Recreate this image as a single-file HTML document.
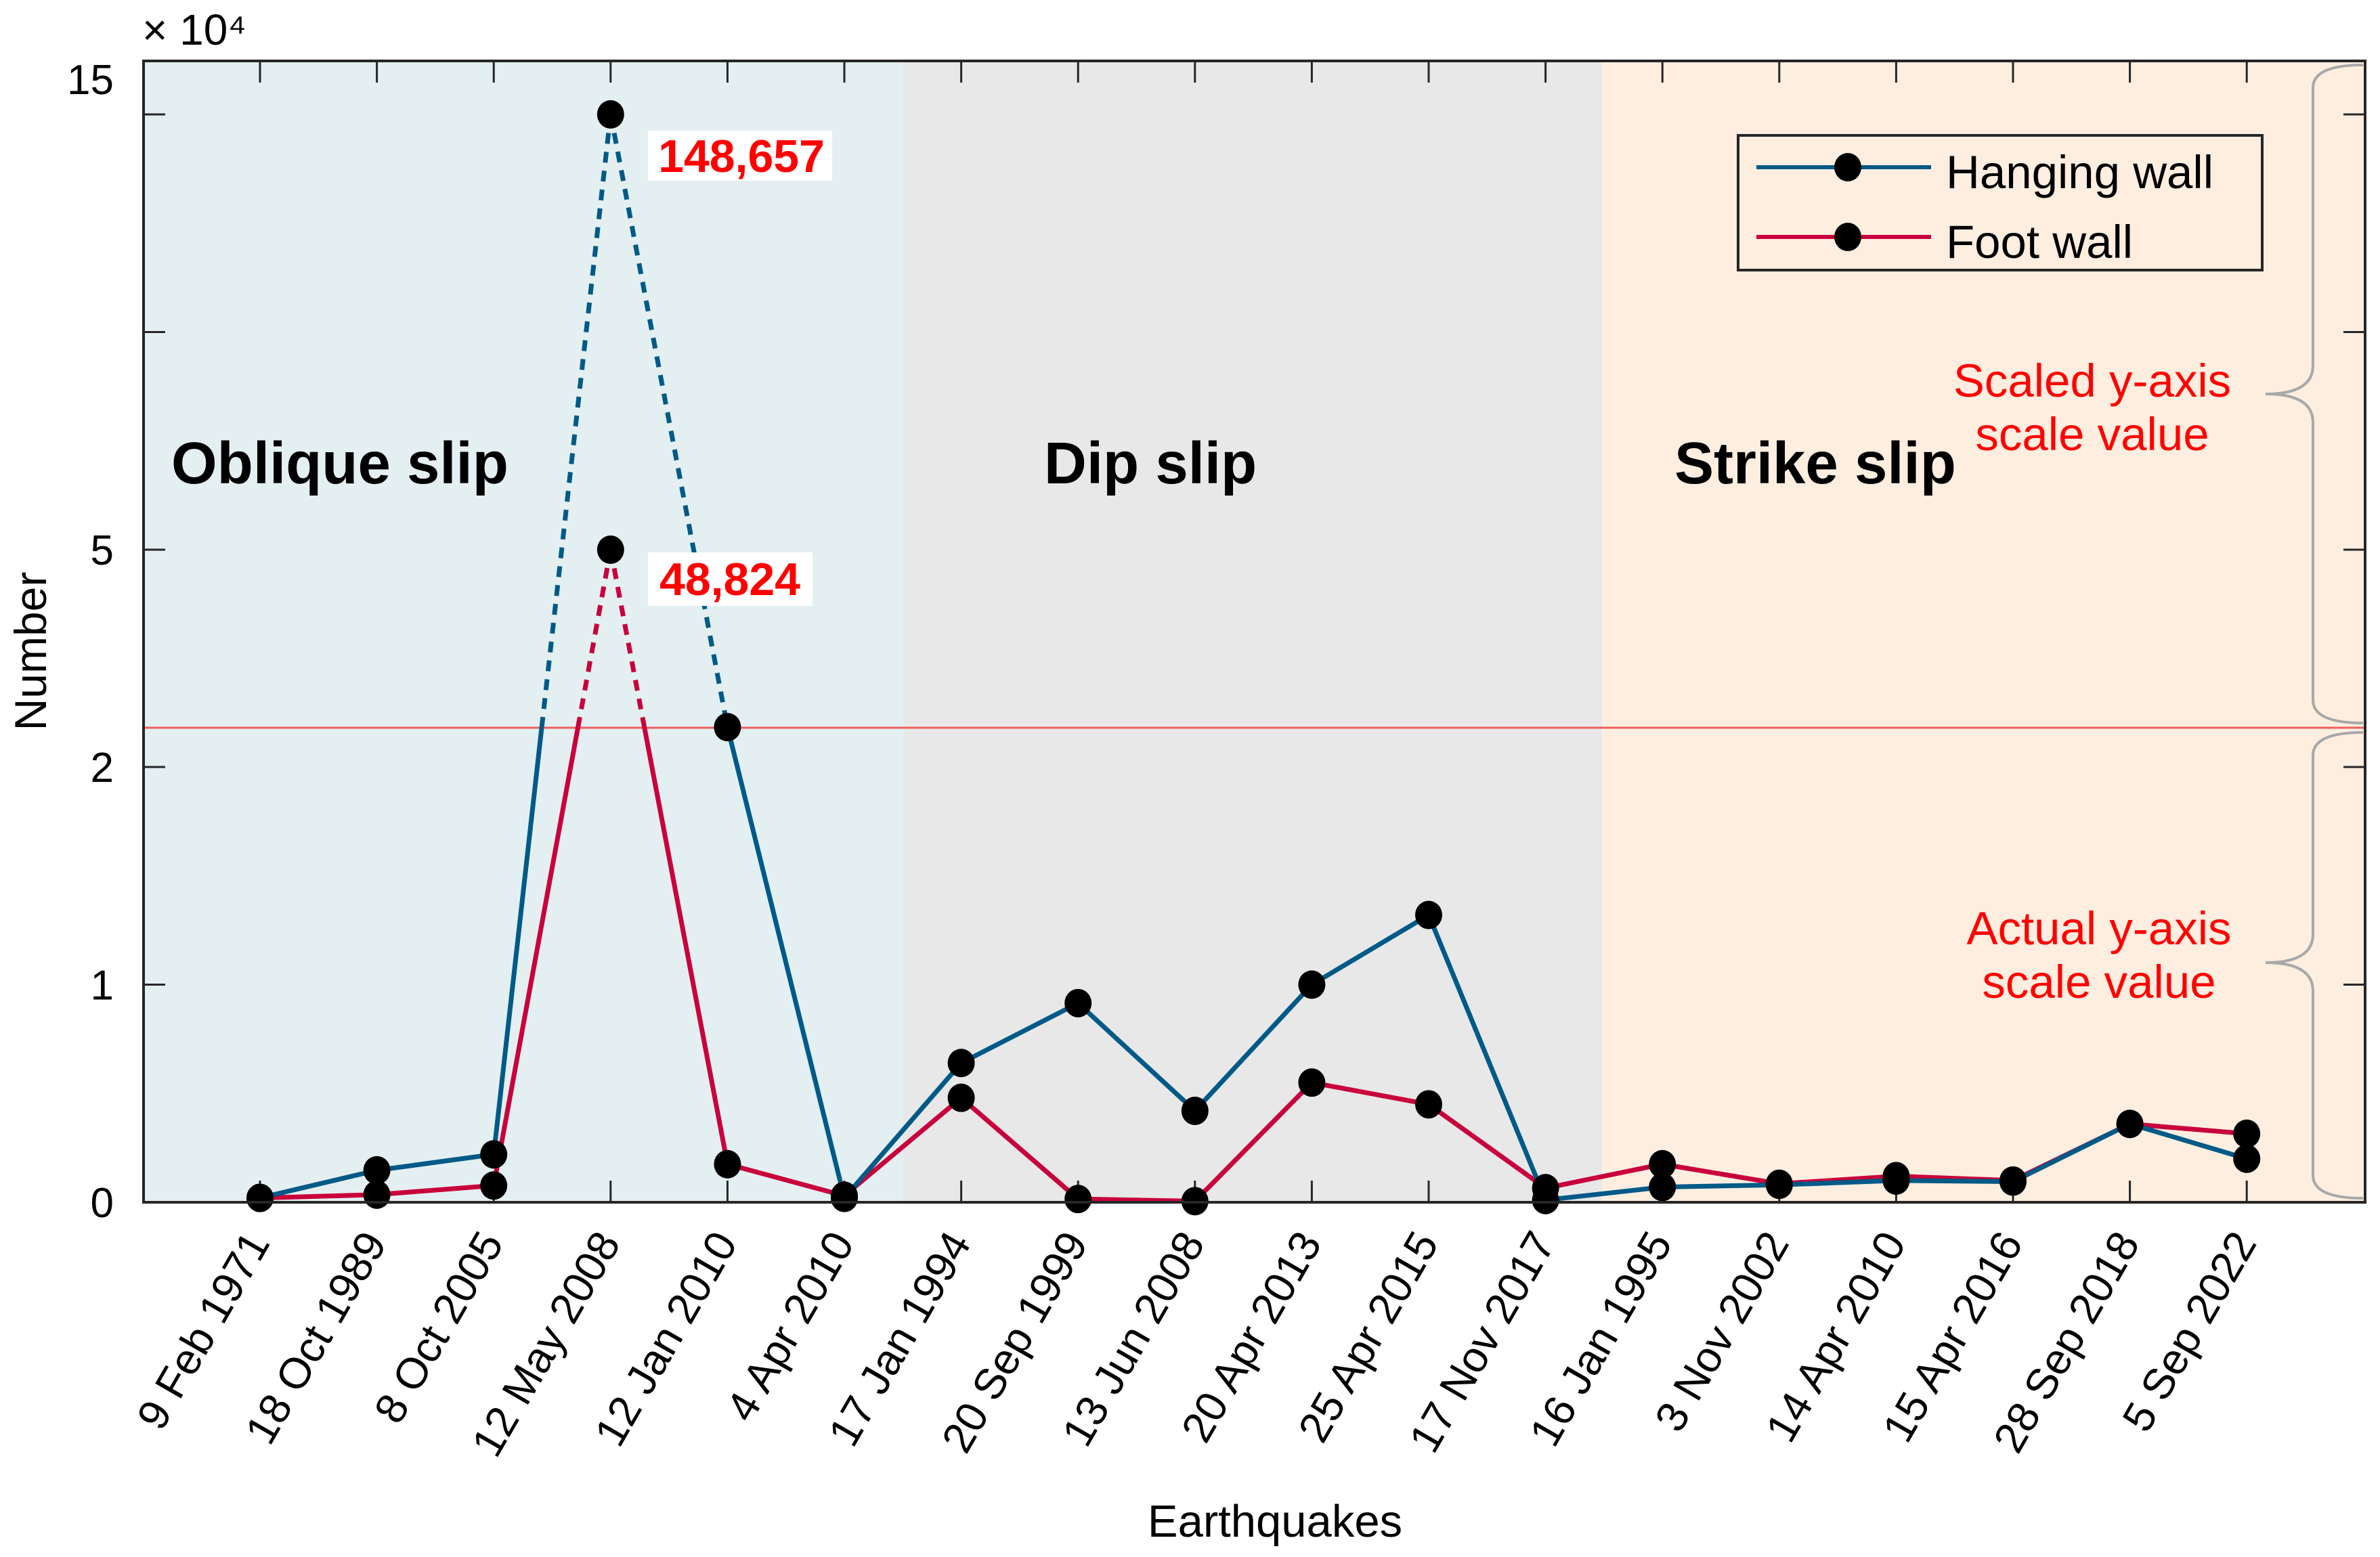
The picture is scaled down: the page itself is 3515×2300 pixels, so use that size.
<!DOCTYPE html>
<html><head><meta charset="utf-8">
<style>
html,body{margin:0;padding:0;background:#fff;}
svg{display:block;font-family:"Liberation Sans",sans-serif;}
</style></head>
<body>
<svg id="chart" width="3515" height="2300" viewBox="0 0 3515 2300" xmlns="http://www.w3.org/2000/svg">
  <rect x="212" y="90" width="1122" height="1686" fill="#e4eff1"/>
  <rect x="1334" y="90" width="1032" height="1686" fill="#e8e8e8"/>
  <rect x="2366" y="90" width="1127" height="1686" fill="#fdeee0"/>
  <line x1="212" y1="1075" x2="3493" y2="1075" stroke="#f06060" stroke-width="3"/>
  <g id="ticks"></g>
  <g id="series"></g>
  <rect x="212" y="90" width="3281" height="1686" fill="none" stroke="#262626" stroke-width="4"/>

  <text x="253" y="714" font-size="87" font-weight="bold">Oblique slip</text>
  <text x="1542" y="714" font-size="87" font-weight="bold">Dip slip</text>
  <text x="2473" y="714" font-size="87" font-weight="bold">Strike slip</text>

  <rect x="957" y="193" width="272" height="74" fill="#fff"/>
  <text x="1095" y="254" font-size="68" font-weight="bold" fill="#ff0000" text-anchor="middle">148,657</text>
  <rect x="957" y="816" width="243" height="79" fill="#fff"/>
  <text x="1078" y="879" font-size="68" font-weight="bold" fill="#ff0000" text-anchor="middle">48,824</text>

  <g>
    <rect x="2567" y="200" width="774" height="199" fill="#fdeee0" stroke="#262626" stroke-width="4"/>
    <line x1="2594" y1="247" x2="2852" y2="247" stroke="#005a87" stroke-width="6"/>
    <ellipse cx="2729" cy="247" rx="20" ry="21" fill="#000"/>
    <text x="2874" y="278" font-size="69">Hanging wall</text>
    <line x1="2594" y1="350" x2="2852" y2="350" stroke="#c8003c" stroke-width="6"/>
    <ellipse cx="2729" cy="350" rx="20" ry="21" fill="#000"/>
    <text x="2874" y="381" font-size="69">Foot wall</text>
  </g>

  <text x="3090" y="586" font-size="69" fill="#ff0000" text-anchor="middle">Scaled y-axis</text>
  <text x="3090" y="665" font-size="69" fill="#ff0000" text-anchor="middle">scale value</text>
  <text x="3100" y="1395" font-size="69" fill="#ff0000" text-anchor="middle">Actual y-axis</text>
  <text x="3100" y="1474" font-size="69" fill="#ff0000" text-anchor="middle">scale value</text>
  <path d="M3490,96 Q3416,96 3416,130 L3416,540 Q3416,582 3346,582 Q3416,582 3416,624 L3416,1034 Q3416,1068 3490,1068" fill="none" stroke="#a8a8a8" stroke-width="4"/>
  <path d="M3490,1082 Q3416,1082 3416,1116 L3416,1380 Q3416,1422 3346,1422 Q3416,1422 3416,1464 L3416,1736 Q3416,1770 3490,1770" fill="none" stroke="#a8a8a8" stroke-width="4"/>

  <text x="210" y="66" font-size="64">× 10⁴</text>
  <text transform="translate(68,962) rotate(-90)" font-size="66" text-anchor="middle">Number</text>
  <text x="1883" y="2270" font-size="67" text-anchor="middle">Earthquakes</text>
  <g id="labels"></g>
</svg>
<script>
const categories = ["9 Feb 1971","18 Oct 1989","8 Oct 2005","12 May 2008","12 Jan 2010","4 Apr 2010","17 Jan 1994","20 Sep 1999","13 Jun 2008","20 Apr 2013","25 Apr 2015","17 Nov 2017","16 Jan 1995","3 Nov 2002","14 Apr 2010","15 Apr 2016","28 Sep 2018","5 Sep 2022"];
const hangingWall = [0.02,0.147,0.22,15.0,2.55,0.02,0.64,0.915,0.42,1.0,1.32,0.01,0.07,0.08,0.1,0.095,0.36,0.2];
const footWall = [0.02,0.035,0.077,5.0,0.175,0.03,0.48,0.015,0.005,0.55,0.45,0.065,0.175,0.085,0.12,0.1,0.36,0.315];
const yTickValues = [0,1,2,5,10,15];
const yTickLabels = ["0","1","2","5","",""];

const NS = "http://www.w3.org/2000/svg";
const X0 = 384, DX = 172.6;
function xs(i){ return X0 + i*DX; }
const knotsV = [0,1,2,5,15];
const knotsY = [1776,1454.5,1133,812,169];
function ys(v){
  for(let k=0;k<knotsV.length-1;k++){
    if(v<=knotsV[k+1] || k===knotsV.length-2){
      const t=(v-knotsV[k])/(knotsV[k+1]-knotsV[k]);
      return knotsY[k]+t*(knotsY[k+1]-knotsY[k]);
    }
  }
}
function mk(tag, attrs){ const e=document.createElementNS(NS,tag); for(const k in attrs) e.setAttribute(k,attrs[k]); return e; }

const ticks=document.getElementById('ticks');
categories.forEach((c,i)=>{
  const t1=mk('line',{x1:xs(i),y1:90,x2:xs(i),y2:122,stroke:'#262626','stroke-width':3});
  
  
  ticks.appendChild(t1);
  const t2=mk('line',{x1:xs(i),y1:1776,x2:xs(i),y2:1744,stroke:'#262626','stroke-width':3});
  
  
  ticks.appendChild(t2);
});
const labels=document.getElementById('labels');
yTickValues.forEach((v,i)=>{
  const y=ys(v);
  const l=mk('line',{x1:212,y1:y,x2:244,y2:y,stroke:'#262626','stroke-width':3});
  
  
  ticks.appendChild(l);
  const r=mk('line',{x1:3461,y1:y,x2:3493,y2:y,stroke:'#262626','stroke-width':3});
  
  
  ticks.appendChild(r);
  if(yTickLabels[i]!==""){
    const t=mk('text',{x:168,y:y+22,'font-size':62,'text-anchor':'end'});
    t.textContent=yTickLabels[i];
    
    
    labels.appendChild(t);
  }
});
const t15=mk('text',{x:168,y:139,'font-size':62,'text-anchor':'end'});
t15.textContent="15";


labels.appendChild(t15);

categories.forEach((c,i)=>{
  const t=mk('text',{transform:`translate(${xs(i)+16},${1836}) rotate(-60)`,'font-size':64,'text-anchor':'end'});
  t.textContent=c;
  
  
  labels.appendChild(t);
});

const series=document.getElementById('series');
const breakY=1075;
function drawSeries(vals,color,name){
  for(let i=0;i<vals.length-1;i++){
    const x1=xs(i),y1=ys(vals[i]),x2=xs(i+1),y2=ys(vals[i+1]);
    const up1=y1<breakY-1, up2=y2<breakY-1;
    const segs=[];
    if(up1===up2){ segs.push([x1,y1,x2,y2,up1]); }
    else{
      const t=(breakY-y1)/(y2-y1); const xm=x1+t*(x2-x1);
      segs.push([x1,y1,xm,breakY,up1]); segs.push([xm,breakY,x2,y2,up2]);
    }
    segs.forEach(s=>{
      const a={x1:s[0],y1:s[1],x2:s[2],y2:s[3],stroke:color,'stroke-width':7};
      if(s[4]) a['stroke-dasharray']='16,12';
      const ln=mk('line',a);
      
      
      series.appendChild(ln);
    });
  }
}
function drawMarkers(vals,name){
  vals.forEach((v,i)=>{
    const e=mk('ellipse',{cx:xs(i),cy:ys(v),rx:20,ry:21,fill:'#000'});
    
    
    series.appendChild(e);
  });
}
drawSeries(footWall,'#c8003c','foot-wall');
drawSeries(hangingWall,'#005a87','hanging-wall');
drawMarkers(footWall,'foot-wall');
drawMarkers(hangingWall,'hanging-wall');
</script>
</body></html>
